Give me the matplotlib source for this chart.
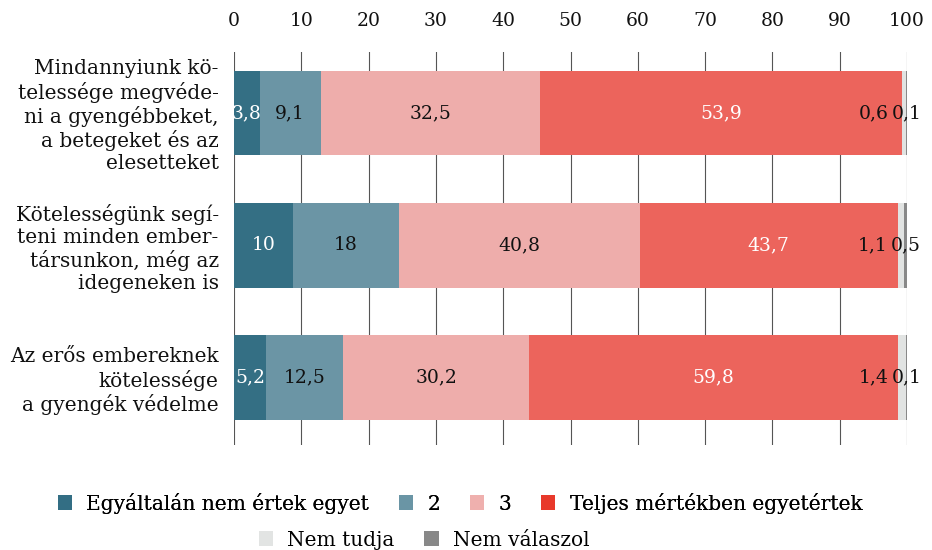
import matplotlib
matplotlib.use("Agg")
import matplotlib.pyplot as plt
from matplotlib.patches import Patch
import numpy as np

plt.rcParams['font.family'] = ['DejaVu Serif']

categories = [
    "Mindannyiunk kö-\ntelessége megvéde-\nni a gyengébbeket,\na betegeket és az\nelesetteket",
    "Kötelességünk segí-\nteni minden ember-\ntársunkon, még az\nidegeneken is",
    "Az erős embereknek\nkötelessége\na gyengék védelme",
]
series_names = ["Egyáltalán nem értek egyet", "2", "3",
                "Teljes mértékben egyetértek", "Nem tudja", "Nem válaszol"]
s_disagree = [3.8, 10, 5.2]
s_two = [9.1, 18, 12.5]
s_three = [32.5, 40.8, 30.2]
s_agree = [53.9, 43.7, 59.8]
s_dont_know = [0.6, 1.1, 1.4]
s_no_answer = [0.1, 0.5, 0.1]
ticks = [0, 10, 20, 30, 40, 50, 60, 70, 80, 90, 100]

bar_colors = ['#346f84', '#6b95a5', '#eeadab', '#ec645c', '#e1e3e2', '#888888']
legend_colors = ['#336e84', '#6a95a5', '#efb0ae', '#e8392b', '#e2e4e3', '#888888']
label_colors = ['white', '#111111', '#111111', 'white', '#111111', '#111111']


def fmt(v):
    return f"{v:g}".replace('.', ',')


def main():
    series = np.array([s_disagree, s_two, s_three, s_agree, s_dont_know, s_no_answer])
    # 100% stacking: every row is scaled to its own total
    shares = series / series.sum(axis=0) * 100

    fig = plt.figure(figsize=(9.32, 5.5), dpi=100)
    ax = fig.add_axes([234 / 932, 1 - 445 / 550, (907 - 234) / 932, (445 - 52) / 550])

    y = np.arange(len(categories))
    left = np.zeros(len(categories))
    for i in range(len(series)):
        ax.barh(y, shares[i], 0.64, left=left, color=bar_colors[i], zorder=2)
        for j in range(len(categories)):
            cx = left[j] + shares[i][j] / 2
            if i == 4:
                # pushed left so it does not collide with the last label
                nx = left[j] + shares[i][j] + shares[5][j] / 2
                ax.annotate(fmt(series[i][j]), xy=(nx, y[j]), xytext=(-13, 0),
                            textcoords='offset points', ha='right', va='center',
                            fontsize=13.5, color=label_colors[i], zorder=3)
            else:
                ax.text(cx, y[j], fmt(series[i][j]), ha='center', va='center',
                        fontsize=13.5, color=label_colors[i], zorder=3)
        left += shares[i]

    ax.set_xlim(0, 100)
    ax.set_ylim(2.51, -0.46)
    ax.set_xticks(ticks)
    ax.xaxis.tick_top()
    ax.tick_params(axis='x', length=0, pad=16, labelsize=13.5, labelcolor='#111111')
    ax.set_yticks(y)
    ax.set_yticklabels(categories, fontsize=14.5, linespacing=1.2, color='#111111')
    ax.tick_params(axis='y', length=0, pad=11)
    ax.xaxis.grid(True, color='#555555', linewidth=0.8, zorder=0)
    ax.set_axisbelow(True)
    for sp in ax.spines.values():
        sp.set_visible(False)

    handles = [Patch(facecolor=c, edgecolor='none') for c in legend_colors]
    leg1 = fig.legend(handles[:4], series_names[:4], loc='center', ncol=4,
                      bbox_to_anchor=(460 / 932, 1 - 503 / 550), frameon=False,
                      fontsize=14.5, handlelength=0.7, handleheight=0.7,
                      handletextpad=0.7, columnspacing=1.5)
    fig.add_artist(leg1)
    fig.legend(handles[4:], series_names[4:], loc='center', ncol=2,
               bbox_to_anchor=(424 / 932, 1 - 540 / 550), frameon=False,
               fontsize=14.5, handlelength=0.7, handleheight=0.7,
               handletextpad=0.7, columnspacing=1.5)

    fig.savefig('out.png', dpi=100)


if __name__ == "__main__":
    main()
